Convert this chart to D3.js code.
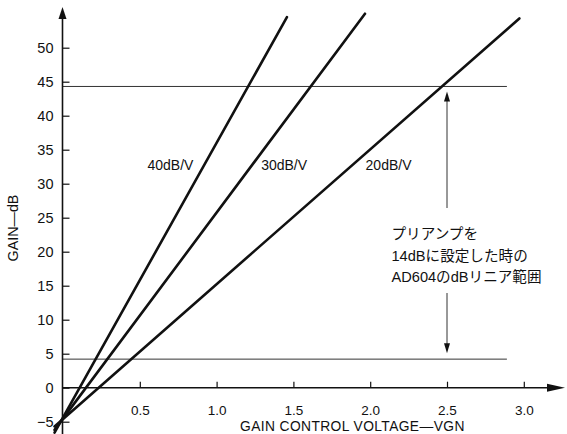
<!DOCTYPE html>
<html>
<head>
<meta charset="utf-8">
<script src="https://cdn.jsdelivr.net/npm/d3@7"></script>
<style>
  html, body { margin: 0; padding: 0; background: #fff; }
  svg { display: block; font-family: "Liberation Sans", Arial, "Noto Sans CJK JP", sans-serif; }
</style>
</head>
<body>
<svg id="chart" width="567" height="434"></svg>
<script>
// ---- data ----
const xTicks = [0.5, 1.0, 1.5, 2.0, 2.5, 3.0];
const xTickLabels = ["0.5", "1.0", "1.5", "2.0", "2.5", "3.0"];
const yTicks = [-5, 0, 5, 10, 15, 20, 25, 30, 35, 40, 45, 50];
const yTickLabels = ["\u22125", "0", "5", "10", "15", "20", "25", "30", "35", "40", "45", "50"];
const seriesNames = ["40dB/V", "30dB/V", "20dB/V"];
const seriesStartV = [-0.055, -0.055, -0.055];
const seriesStartG = [-6.6, -6.2, -5.7];
const seriesEndV = [1.458, 1.966, 2.971];
const seriesEndG = [54.5, 55.0, 54.3];
const labelV = [0.55, 1.29, 1.97];
const labelG = [32.0, 32.0, 32.0];
const refLevels = [44.3, 4.2];
const refEndV = 2.89;
const rangeArrowV = 2.5;
const noteLines = ["プリアンプを", "14dBに設定した時の", "AD604のdBリニア範囲"];
const xTitle = "GAIN CONTROL VOLTAGE\u2014VGN";
const yTitle = "GAIN\u2014dB";

// ---- scales ----
const svg = d3.select("#chart");
const x = d3.scaleLinear().domain([0, 3]).range([63, 523.8]);
const y = d3.scaleLinear().domain([0, 50]).range([387.7, 47.7]);
const ink = "#111";

// reference horizontal lines
svg.append("g").selectAll("line").data(refLevels).join("line")
  .attr("x1", x(0) - 1).attr("x2", x(refEndV))
  .attr("y1", d => y(d)).attr("y2", d => y(d))
  .attr("stroke", "#333").attr("stroke-width", 1);

// y axis (ticks inward)
const yAxis = d3.axisLeft(y).tickValues(yTicks)
  .tickFormat((d, i) => yTickLabels[i]).tickSize(-7).tickPadding(9);
const gy = svg.append("g").attr("transform", `translate(${x(0) - 0.5},0)`).call(yAxis);
gy.select(".domain").remove();
gy.selectAll(".tick line").attr("stroke", ink).attr("stroke-width", 1.2);
gy.selectAll(".tick text").attr("font-size", 14.5).attr("fill", ink).attr("font-family", null);

// x axis (ticks inward)
const xAxis = d3.axisBottom(x).tickValues(xTicks)
  .tickFormat((d, i) => xTickLabels[i]).tickSize(-6).tickPadding(18);
const gx = svg.append("g").attr("transform", `translate(0,${y(0)})`).call(xAxis);
gx.select(".domain").remove();
gx.selectAll(".tick line").attr("stroke", ink).attr("stroke-width", 1.2);
gx.selectAll(".tick text").attr("font-size", 13.5).attr("fill", ink).attr("font-family", null);

// axis lines with arrows
const axX = x(0) - 0.5;
svg.append("line").attr("x1", axX).attr("x2", axX).attr("y1", 434).attr("y2", 16)
  .attr("stroke", ink).attr("stroke-width", 1.6);
svg.append("path").attr("d", `M${axX},7 L${axX - 4},19 L${axX + 4},19 Z`).attr("fill", ink);
svg.append("line").attr("x1", axX).attr("x2", 556).attr("y1", y(0)).attr("y2", y(0))
  .attr("stroke", ink).attr("stroke-width", 1.6);
svg.append("path").attr("d", `M565,${y(0)} L547,${y(0) - 4} L547,${y(0) + 4} Z`).attr("fill", ink);

// gain lines
const series = seriesNames.map((n, i) => ({
  name: n,
  pts: [[seriesStartV[i], seriesStartG[i]], [seriesEndV[i], seriesEndG[i]]],
  lv: labelV[i], lg: labelG[i]
}));
const line = d3.line().x(d => x(d[0])).y(d => y(d[1]));
svg.append("g").selectAll("path").data(series).join("path")
  .attr("d", d => line(d.pts)).attr("fill", "none")
  .attr("stroke", ink).attr("stroke-width", 2.6).attr("stroke-linecap", "round");

svg.append("g").selectAll("text").data(series).join("text")
  .attr("x", d => x(d.lv)).attr("y", d => y(d.lg))
  .attr("font-size", 14).attr("fill", ink).text(d => d.name);

// range double arrow
const ax = x(rangeArrowV);
const topTip = y(refLevels[0]) + 5, botTip = y(refLevels[1]) - 6;
svg.append("line").attr("x1", ax).attr("x2", ax).attr("y1", topTip + 8).attr("y2", 208)
  .attr("stroke", "#333").attr("stroke-width", 1);
svg.append("line").attr("x1", ax).attr("x2", ax).attr("y1", 293).attr("y2", botTip - 8)
  .attr("stroke", "#333").attr("stroke-width", 1);
svg.append("path").attr("d", `M${ax},${topTip} L${ax - 3},${topTip + 10} L${ax + 3},${topTip + 10} Z`).attr("fill", ink);
svg.append("path").attr("d", `M${ax},${botTip} L${ax - 3},${botTip - 10} L${ax + 3},${botTip - 10} Z`).attr("fill", ink);

// note text
svg.append("g").selectAll("text").data(noteLines).join("text")
  .attr("x", 391.5).attr("y", (d, i) => 239 + i * 21.5)
  .attr("font-size", 14.6).attr("fill", ink).text(d => d);

// axis titles
svg.append("text").attr("x", 240).attr("y", 431).attr("font-size", 13.8)
  .attr("letter-spacing", 0.4).attr("fill", ink).text(xTitle);
svg.append("text").attr("transform", "translate(18,228) rotate(-90)")
  .attr("text-anchor", "middle").attr("font-size", 14.3).attr("fill", ink).text(yTitle);
</script>
</body>
</html>
